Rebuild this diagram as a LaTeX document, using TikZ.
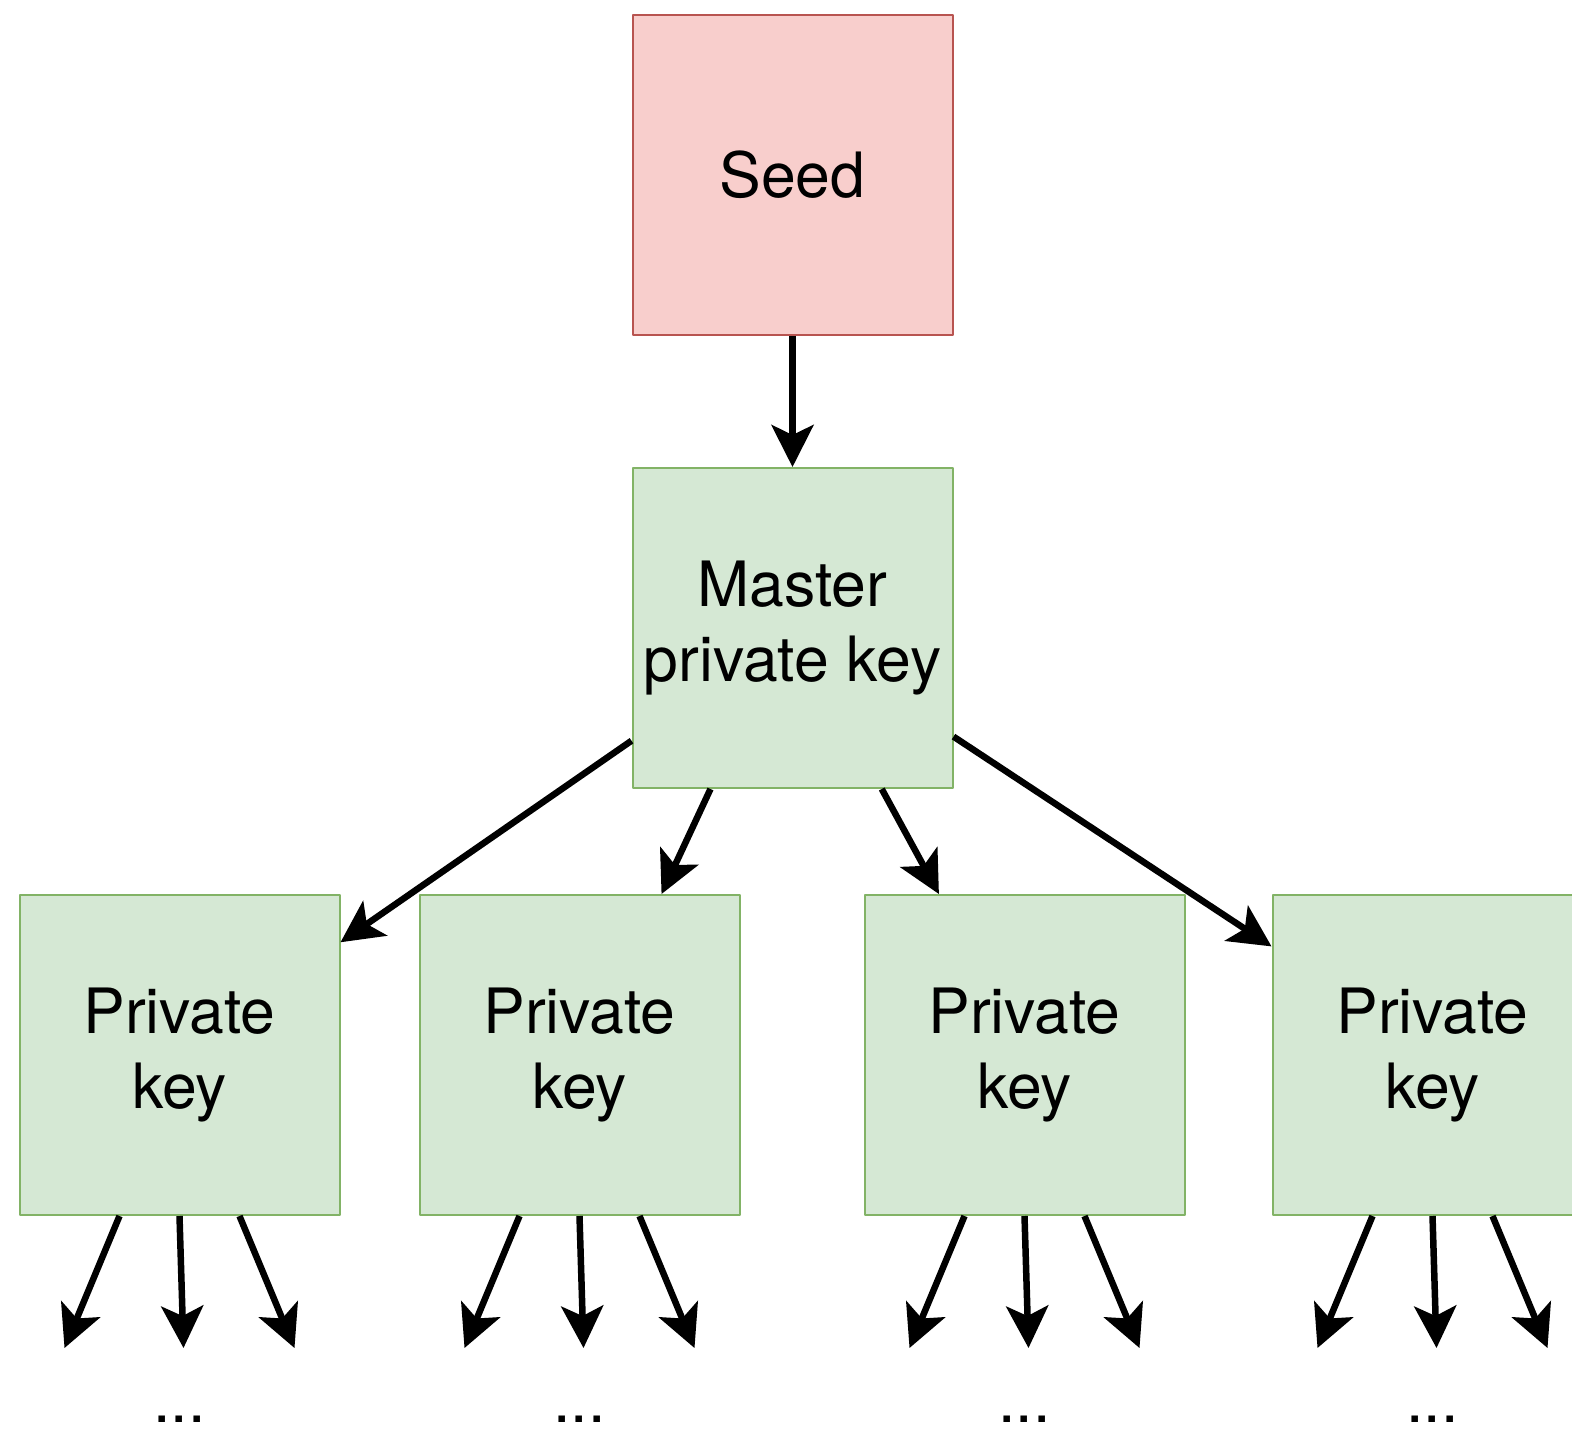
\documentclass[tikz,border=0pt]{standalone}
\usepackage{fontspec}
\setmainfont{TeX Gyre Heros}
\usetikzlibrary{arrows.meta}

\definecolor{seedfill}{HTML}{F8CECC}
\definecolor{seedline}{HTML}{B85450}
\definecolor{keyfill}{HTML}{D5E8D4}
\definecolor{keyline}{HTML}{82B366}

\tikzset{
  box/.style={rectangle, minimum width=160pt, minimum height=160pt, inner sep=0pt,
    line width=1pt, align=center, font=\fontsize{31.25}{37.5}\selectfont},
  seedbox/.style={box, draw=seedline, fill=seedfill},
  keybox/.style={box, draw=keyline, fill=keyfill},
  derive/.style={line width=3.25pt, -{Stealth[length=21pt, width=21pt, inset=5pt]}},
  dots/.style={anchor=base, inner sep=0pt, text depth=0pt, font=\fontsize{31.25}{37.5}\selectfont}
}

\begin{document}
\begin{tikzpicture}[x=0.5pt, y=-0.5pt, line join=round]
  \useasboundingbox (0,0) rectangle (1572,1433);
  \clip (0,0) rectangle (1572,1433);

  % boxes
  \node[seedbox] (seed) at (792.5,175) {Seed};
  \node[keybox] (master) at (792.5,628) {Master\\private key};
  \foreach \k/\x in {1/179.5,2/579.5,3/1024.5,4/1432.5}
    \node[keybox] (pk\k) at (\x,1055) {Private\\key};

  % derivations
  \draw[derive] (seed) -- (master);
  \draw[derive] (master.215) -- (pk1.35);
  \draw[derive] (master.243.4) -- (pk2.63.4);
  \draw[derive] (master.299) -- (pk3.118);
  \draw[derive] (master.326) -- (pk4.146);

  % next level
  \foreach \k in {1,...,4}{
    \foreach \i/\s/\e in {a/-60/-115, b/0/4, c/60/115}{
      \coordinate (pk\k\i) at ([xshift=\e*0.5pt, yshift=-66pt]pk\k.south);
      \draw[derive] ([xshift=\s*0.5pt]pk\k.south) -- (pk\k\i);
    }
    \node[dots] (more\k) at ([yshift=-103pt]pk\k.south) {...};
  }

\end{tikzpicture}
\end{document}
